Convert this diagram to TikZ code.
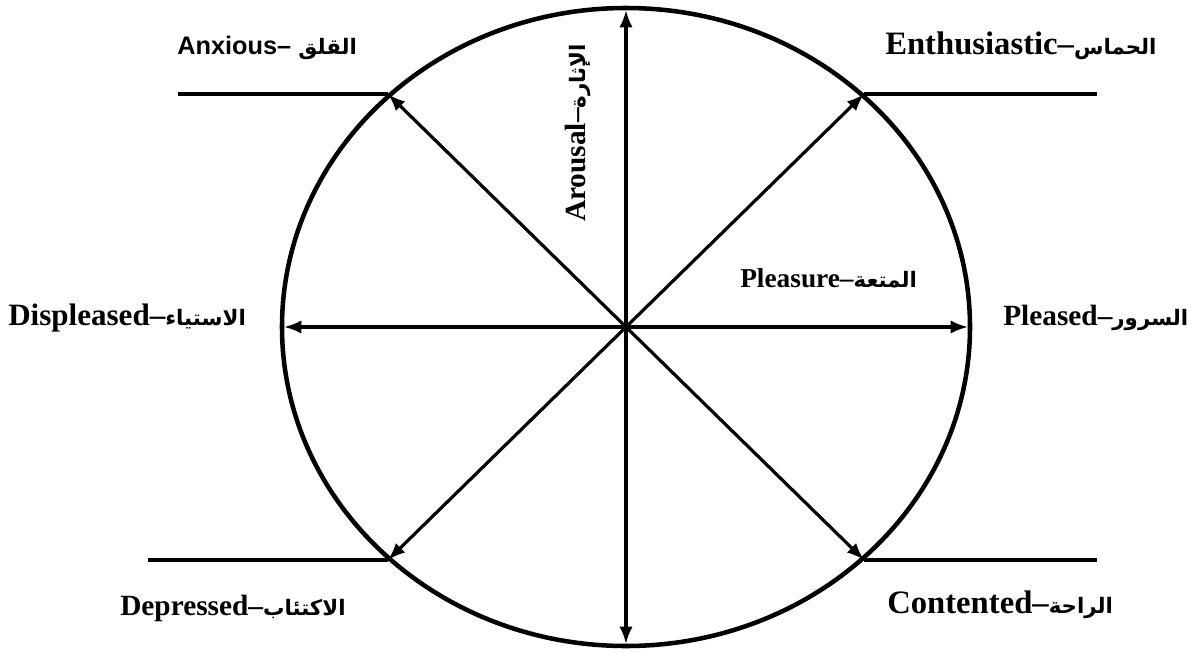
\documentclass[tikz,border=0pt]{standalone}
\usepackage{fontspec}
\setmainfont{Liberation Serif}
\newfontfamily\labelsans{Liberation Sans}
\newfontfamily\arabicfont[Script=Arabic]{DejaVu Sans}
\TeXXeTstate=1
\usetikzlibrary{arrows.meta, calc, positioning}

\newcommand{\artext}[1]{{\arabicfont\bfseries\fontsize{16}{20}\selectfont\beginR #1\endR}}
\newcommand{\moodsize}[1]{\fontsize{#1}{#1}\selectfont\bfseries}

\begin{document}
\begin{tikzpicture}[
    x=0.75pt, y=-0.75pt,
    >={Latex[length=13pt,width=10pt]},
    rim/.style={line width=3.4pt},
    axis/.style={<->, line width=2.4pt},
    stub/.style={line width=2.8pt},
    mood/.style={anchor=base west, inner sep=0pt, font=\moodsize{22}}
]
\useasboundingbox (0,0) rectangle (1200,653);

% centre and rim
\coordinate (o) at (626,327);
\draw[rim] (o) ellipse [x radius=344, y radius=319];

% points on the rim
\coordinate (n) at (626,10);
\coordinate (s) at (626,644);
\coordinate (w) at (284,327);
\coordinate (e) at (968,327);
\coordinate (nw) at (388,94);
\coordinate (ne) at (864,94);
\coordinate (sw) at (388,560);
\coordinate (se) at (864,560);

% ends of the side lines
\coordinate (nw_end) at (178,94);
\coordinate (ne_end) at (1097,94);
\coordinate (sw_end) at (148,560);
\coordinate (se_end) at (1097,560);

% axes
\draw[axis] (s) -- (n);
\draw[axis] (w) -- (e);
\draw[axis] (se) -- (nw);
\draw[axis] (sw) -- (ne);

% side lines
\draw[stub] (nw) -- (nw_end);
\draw[stub] (ne) -- (ne_end);
\draw[stub] (sw) -- (sw_end);
\draw[stub] (se) -- (se_end);

% labels
\node[mood, font=\labelsans\moodsize{19}] (anxious) at (177,55) {Anxious– \artext{القلق}};
\node[mood, font=\moodsize{24.5}] (enthusiastic) at (885,55) {Enthusiastic–\artext{الحماس}};
\node[mood, font=\moodsize{23.3}] (displeased) at (8,325) {Displeased–\artext{الاستياء}};
\node[mood] (pleased) at (1003,325) {Pleased–\artext{السرور}};
\node[mood] (depressed) at (120,615) {Depressed–\artext{الاكتئاب}};
\node[mood, font=\moodsize{24.5}] (contented) at (887,613) {Contented–\artext{الراحة}};
\node[mood, font=\moodsize{20.5}] (pleasure) at (740,287) {Pleasure–\artext{المتعة}};
\node[mood, rotate=90] (arousal) at (585,222) {Arousal–\artext{الإثارة}};

\end{tikzpicture}
\end{document}
